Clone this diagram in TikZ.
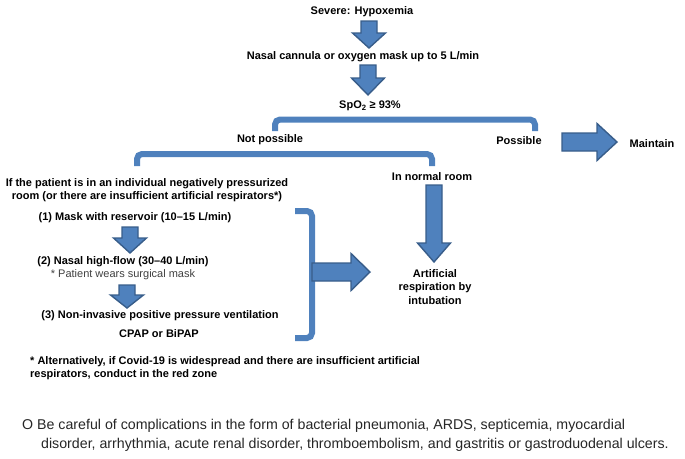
\documentclass[tikz,border=0pt]{standalone}
\usepackage{fontspec}
\setmainfont{Liberation Sans}
\definecolor{arrowfill}{HTML}{4F81BD}
\definecolor{arrowline}{HTML}{385D8A}
\tikzset{
  lbl/.style={font=\bfseries\fontsize{11}{13.5}\selectfont, inner sep=0pt, align=center},
  note/.style={font=\fontsize{11}{13}\selectfont, text=black!75, inner sep=0pt},
  blockarrow/.style={fill=arrowfill, draw=arrowline, line width=1.4pt, line join=miter},
  bracketline/.style={draw=arrowfill, line width=6pt, rounded corners=5pt}
}
% block arrows: centre, start, head start, tip
\newcommand{\downblock}[4]{%
  \draw[blockarrow] (#1-8,#2) -- (#1+8,#2) -- (#1+8,#3) -- (#1+16.5,#3) -- (#1,#4)
    -- (#1-16.5,#3) -- (#1-8,#3) -- cycle;}
\newcommand{\rightblock}[4]{%
  \draw[blockarrow] (#2,#1-9) -- (#3,#1-9) -- (#3,#1-18.5) -- (#4,#1)
    -- (#3,#1+18.5) -- (#3,#1+9) -- (#2,#1+9) -- cycle;}
\begin{document}
\begin{tikzpicture}[x=1pt,y=-1pt]
\useasboundingbox (0,0) rectangle (685,458);
\node[lbl] (severe) at (362,12) {Severe: Hypoxemia};
\node[lbl] (cannula) at (363,57) {Nasal cannula or oxygen mask up to 5 L/min};
\node[lbl] (spo) at (370,106) {SpO\textsubscript{2} ≥ 93\%};
\downblock{369}{21}{33}{48}
\downblock{368}{65}{78}{95}
% first split
\draw[bracketline] (275,131) -- (275,119.5) -- (535,119.5) -- (535,131);
\node[lbl] (notposs) at (270,140) {Not possible};
\node[lbl] (poss) at (519,141) {Possible};
\rightblock{142}{562}{597}{617}
\node[lbl] (maintain) at (652,144) {Maintain};
% second split
\draw[bracketline] (137,166) -- (137,154) -- (432,154) -- (432,166);
\node[lbl] (negroom) at (147,190) {If the patient is in an individual negatively pressurized\\room (or there are insufficient artificial respirators*)};
\node[lbl] (normal) at (432,177) {In normal room};
\node[lbl] (mask) at (135,218) {(1) Mask with reservoir (10–15 L/min)};
\downblock{130}{227}{238}{253}
\node[lbl] (highflow) at (123,262) {(2) Nasal high-flow (30–40 L/min)};
\node[note] (surgical) at (123,275) {* Patient wears surgical mask};
\downblock{127}{285}{295}{308}
\node[lbl] (niv) at (160,316) {(3) Non-invasive positive pressure ventilation};
\node[lbl] (cpap) at (159,334) {CPAP or BiPAP};
\draw[bracketline] (295,211) -- (312,211) -- (312,338) -- (295,338);
\rightblock{272}{312}{351}{370}
\downblock{434}{185}{243}{262}
\node[lbl] (intub) at (435,287) {Artificial\\respiration by\\intubation};
\node[lbl, align=left, anchor=north west] (alt) at (30,356) {* Alternatively, if Covid-19 is widespread and there are insufficient artificial\\respirators, conduct in the red zone};
\node[note, anchor=north west, align=left, font=\fontsize{14.2}{19.5}\selectfont, text=black!85] (careful) at (22,419)
  {O Be careful of complications in the form of bacterial pneumonia, ARDS, septicemia, myocardial\\
   \hspace*{19pt}disorder, arrhythmia, acute renal disorder, thromboembolism, and gastritis or gastroduodenal ulcers.};
\end{tikzpicture}
\end{document}
